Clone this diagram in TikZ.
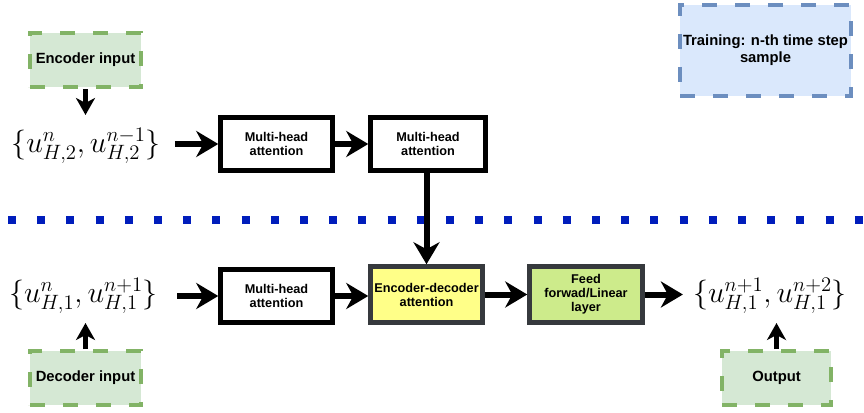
\documentclass[tikz,border=0pt]{standalone}
\usepackage{fontspec}
\setmainfont{Liberation Sans}
\usetikzlibrary{arrows.meta}
\definecolor{boxgreen}{HTML}{D5E8D4}
\definecolor{linegreen}{HTML}{82B366}
\definecolor{boxblue}{HTML}{DAE8FC}
\definecolor{lineblue}{HTML}{6C8EBF}
\definecolor{dotblue}{HTML}{001DBC}
\definecolor{boxyellow}{HTML}{FFFF88}
\definecolor{boxlime}{HTML}{CDEB8B}
\definecolor{edgegray}{HTML}{36393D}
\newcommand{\vecpair}[1]{\scalebox{1.44}{$#1$}}
\begin{document}
\begin{tikzpicture}[x=1pt,y=1pt,
  every node/.style={inner sep=0pt},
  block/.style={draw=black,line width=4.5pt,fill=white,minimum width=112pt,minimum height=53pt,align=center,font=\fontsize{12.7}{14}\selectfont\bfseries},
  grayblock/.style={block,draw=edgegray},
  inbox/.style={draw=linegreen,fill=boxgreen,line width=4pt,dash pattern=on 15pt off 18pt,minimum width=111pt,minimum height=54pt,align=center,font=\fontsize{14.8}{17}\selectfont\bfseries},
  vec/.style={font=\fontsize{22}{26}\selectfont},
  bigarrow/.style={line width=6pt,-{Stealth[length=22pt,width=26pt,inset=7pt]}},
  smallarrow/.style={line width=4.5pt,-{Stealth[length=17pt,width=19pt,inset=5pt]}}]
\useasboundingbox (0,0) rectangle (864,-412);
% encoder side
\node [inbox] (encin) at (85.5,-60) {Encoder input};
\node [vec] (encx) at (86,-146) {\vecpair{\{u^{n}_{H,2},u^{n-1}_{H,2}\}}};
\node [block] (mha1) at (276.5,-144) {Multi-head\\attention};
\node [block,minimum width=115pt] (mha2) at (428,-144) {Multi-head\\attention};
% separator
\draw [dotblue,line width=8pt,dash pattern=on 8pt off 21.2pt] (8,-219.5) -- (864,-219.5);
% decoder side
\node [vec] (decx) at (83.5,-296) {\vecpair{\{u^{n}_{H,1},u^{n+1}_{H,1}\}}};
\node [block] (mha3) at (276.5,-296) {Multi-head\\attention};
\node [grayblock,fill=boxyellow,minimum height=56pt] (encdec) at (426.5,-294.5) {Encoder-decoder\\attention};
\node [grayblock,fill=boxlime,minimum width=113pt,minimum height=56pt] (ff) at (586,-294.5) {Feed\\forwad/Linear\\layer};
\node [vec] (outx) at (770,-296) {\vecpair{\{u^{n+1}_{H,1},u^{n+2}_{H,1}\}}};
\node [inbox] (decin) at (85.5,-378) {Decoder input};
\node [inbox,minimum width=109pt] (outbox) at (776.5,-378) {Output};
\node [inbox,draw=lineblue,fill=boxblue,minimum width=171pt,minimum height=91pt] (train) at (765.5,-50.5) {Training: n-th time step\\sample};
% connectors
\draw [smallarrow] (encin.south) -- ++(0,-26);
\draw [bigarrow,shorten <=14pt] (encx.east |- mha1.west) -- (mha1.west);
\draw [bigarrow] (mha1.east) -- (mha2.west);
\draw [bigarrow] (mha2.south -| encdec.north) -- (encdec.north);
\draw [bigarrow,shorten <=19pt] (decx.east |- mha3.west) -- (mha3.west);
\draw [bigarrow] (mha3.east) -- (mha3.east -| encdec.west);
\draw [bigarrow] (encdec.east) -- (encdec.east -| ff.west);
\draw [bigarrow,shorten >=10pt] (ff.east) -- (ff.east -| outx.west);
\draw [smallarrow] (decin.north) -- ++(0,26);
\draw [smallarrow] (outbox.north) -- ++(0,26);
\end{tikzpicture}
\end{document}
